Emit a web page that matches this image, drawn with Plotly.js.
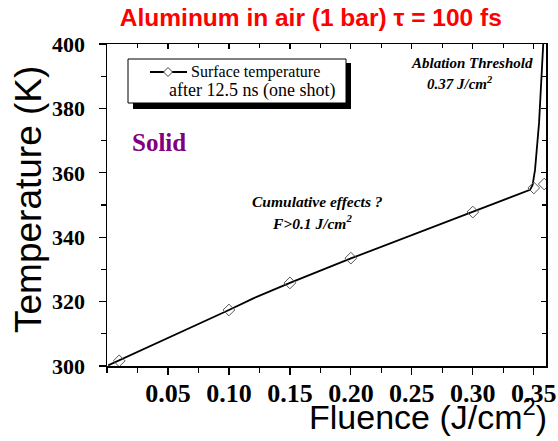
<!DOCTYPE html>
<html>
<head>
<meta charset="utf-8">
<script src="https://cdn.plot.ly/plotly-3.0.1.min.js"></script>
<style>html,body{margin:0;padding:0;background:#fff;}#chart{width:558px;height:441px;}</style>
</head>
<body>
<div id="chart"></div>
<script>
// Continuous simulated curve
const curveX = [0.001, 0.05, 0.1, 0.12, 0.15, 0.2, 0.25, 0.3, 0.33, 0.3469, 0.349, 0.351, 0.3543, 0.3567, 0.3578];
const curveY = [300.2, 308.6, 317.4, 321.0, 325.8, 333.4, 340.6, 347.8, 352.3, 354.7, 356.2, 360.9, 375.5, 391.0, 400.5];
// Diamond markers (surface temperature after 12.5 ns)
const markerX = [0.01, 0.1, 0.15, 0.2, 0.3, 0.35, 0.3585];
const markerY = [301.6, 317.4, 325.8, 333.5, 347.8, 355.3, 356.5];
// Tick labels
const xTickVals = [0.05, 0.10, 0.15, 0.20, 0.25, 0.30, 0.35];
const xTickText = ["0.05", "0.10", "0.15", "0.20", "0.25", "0.30", "0.35"];
const yTickVals = [300, 320, 340, 360, 380, 400];
const yTickText = ["300", "320", "340", "360", "380", "400"];

const serif = "Liberation Serif, Times New Roman, serif";
const sans = "Liberation Sans, Arial, sans-serif";

const traces = [
  {x: curveX, y: curveY, mode: "lines", line: {color: "#000", width: 1.8}, xaxis: "x", yaxis: "y", showlegend: false, hoverinfo: "skip"},
  {x: markerX, y: markerY, mode: "markers", marker: {symbol: "diamond-open", size: 9, color: "#555", line: {width: 1}}, xaxis: "x2", yaxis: "y2", showlegend: false, hoverinfo: "skip"}
];

const xr = [0, 0.36], yr = [300, 400];

// helpers for legend decoration (paper coords)
const px = v => (v - 107) / 439;
const py = v => (366 - v) / 322;
const dcx = px(168), dcy = py(72), ddx = 4.5 / 439, ddy = 4.5 / 322;

const layout = {
  width: 558, height: 441,
  margin: {l: 107, r: 12, t: 44, b: 75},
  paper_bgcolor: "#fff", plot_bgcolor: "#fff",
  showlegend: false,
  title: {text: "<b>Aluminum in air (1 bar) τ = 100 fs</b>", font: {family: sans, size: 24.5, color: "#ff0000"}, x: 0.557, xanchor: "center", y: 0.961, yanchor: "middle"},
  xaxis: {range: xr, showgrid: false, zeroline: false, showline: true, linecolor: "#000", linewidth: 1.5,
    ticks: "outside", ticklen: 7, tickwidth: 1.2, tickcolor: "#000", tickmode: "array", tickvals: xTickVals, ticktext: xTickText,
    tickfont: {family: serif, size: 26, color: "#000", weight: "bold"}, ticklabelstandoff: -4,
    minor: {tickmode: "linear", tick0: 0, dtick: 0.025, ticks: "outside", ticklen: 5, tickwidth: 1.2, tickcolor: "#000", showgrid: false}},
  yaxis: {range: yr, showgrid: false, zeroline: false, showline: true, linecolor: "#000", linewidth: 1.5,
    ticks: "outside", ticklen: 7, tickwidth: 1.2, tickcolor: "#000", tickmode: "array", tickvals: yTickVals, ticktext: yTickText,
    tickfont: {family: serif, size: 22, color: "#000", weight: "bold"}, ticklabelstandoff: 9,
    minor: {tickmode: "linear", tick0: 300, dtick: 10, ticks: "outside", ticklen: 5, tickwidth: 1.2, tickcolor: "#000", showgrid: false}},
  xaxis2: {range: xr, overlaying: "x", side: "top", anchor: "y2", showgrid: false, zeroline: false, showline: true, linecolor: "#000", linewidth: 1.5,
    ticks: "inside", ticklen: 5, tickwidth: 1.2, tickcolor: "#000", tickmode: "array", tickvals: xTickVals, showticklabels: false,
    minor: {tickmode: "linear", tick0: 0, dtick: 0.025, ticks: "inside", ticklen: 4, tickwidth: 1.2, tickcolor: "#000", showgrid: false}},
  yaxis2: {range: yr, overlaying: "y", side: "right", anchor: "x2", showgrid: false, zeroline: false, showline: true, linecolor: "#000", linewidth: 1.5,
    ticks: "inside", ticklen: 5, tickwidth: 1.2, tickcolor: "#000", tickmode: "array", tickvals: yTickVals, showticklabels: false,
    minor: {tickmode: "linear", tick0: 300, dtick: 10, ticks: "inside", ticklen: 4, tickwidth: 1.2, tickcolor: "#000", showgrid: false}},
  shapes: [
    {type: "rect", xref: "paper", yref: "paper", x0: px(133), x1: px(351), y0: py(109), y1: py(63), fillcolor: "#000", line: {width: 0}},
    {type: "rect", xref: "paper", yref: "paper", x0: px(128), x1: px(346), y0: py(103), y1: py(59), fillcolor: "#fff", line: {color: "#000", width: 1}},
    {type: "line", xref: "paper", yref: "paper", x0: px(150), x1: px(187), y0: py(72), y1: py(72), line: {color: "#000", width: 1.8}},
    {type: "path", xref: "paper", yref: "paper",
      path: `M ${dcx-ddx},${dcy} L ${dcx},${dcy+ddy} L ${dcx+ddx},${dcy} L ${dcx},${dcy-ddy} Z`,
      fillcolor: "#fff", line: {color: "#444", width: 1}}
  ],
  annotations: [
    {text: "Surface temperature", xref: "paper", yref: "paper", x: px(189), y: py(72), xanchor: "left", yanchor: "middle", showarrow: false, font: {family: serif, size: 16, color: "#000"}},
    {text: "after 12.5 ns (one shot)", xref: "paper", yref: "paper", x: px(252), y: py(90), xanchor: "center", yanchor: "middle", showarrow: false, font: {family: serif, size: 18, color: "#000"}},
    {text: "<b>Solid</b>", xref: "paper", yref: "paper", x: px(159), y: py(142), xanchor: "center", yanchor: "middle", showarrow: false, font: {family: serif, size: 25, color: "#800080"}},
    {text: "<b><i>Ablation Threshold</i></b>", xref: "paper", yref: "paper", x: px(535), y: py(63), xanchor: "right", yanchor: "middle", showarrow: false, font: {family: serif, size: 15, color: "#000"}},
    {text: "<b><i>0.37 J/cm<sup>2</sup></i></b>", xref: "paper", yref: "paper", x: px(460), y: py(83), xanchor: "center", yanchor: "middle", showarrow: false, font: {family: serif, size: 15, color: "#000"}},
    {text: "<b><i>Cumulative effects ?</i></b>", xref: "paper", yref: "paper", x: px(317), y: py(201), xanchor: "center", yanchor: "middle", showarrow: false, font: {family: serif, size: 15.5, color: "#000"}},
    {text: "<b><i>F>0.1 J/cm<sup>2</sup></i></b>", xref: "paper", yref: "paper", x: px(312), y: py(222), xanchor: "center", yanchor: "middle", showarrow: false, font: {family: serif, size: 15.5, color: "#000"}},
    {text: "Fluence (J/cm<sup>2</sup>)", xref: "paper", yref: "paper", x: px(549), y: py(414), xanchor: "right", yanchor: "middle", showarrow: false, font: {family: sans, size: 34, color: "#000"}},
    {text: "Temperature (K)", xref: "paper", yref: "paper", x: px(28), y: py(200), xanchor: "center", yanchor: "middle", textangle: -90, showarrow: false, font: {family: sans, size: 37, color: "#000"}}
  ]
};

Plotly.newPlot("chart", traces, layout, {displayModeBar: false, staticPlot: true});
</script>
</body>
</html>
